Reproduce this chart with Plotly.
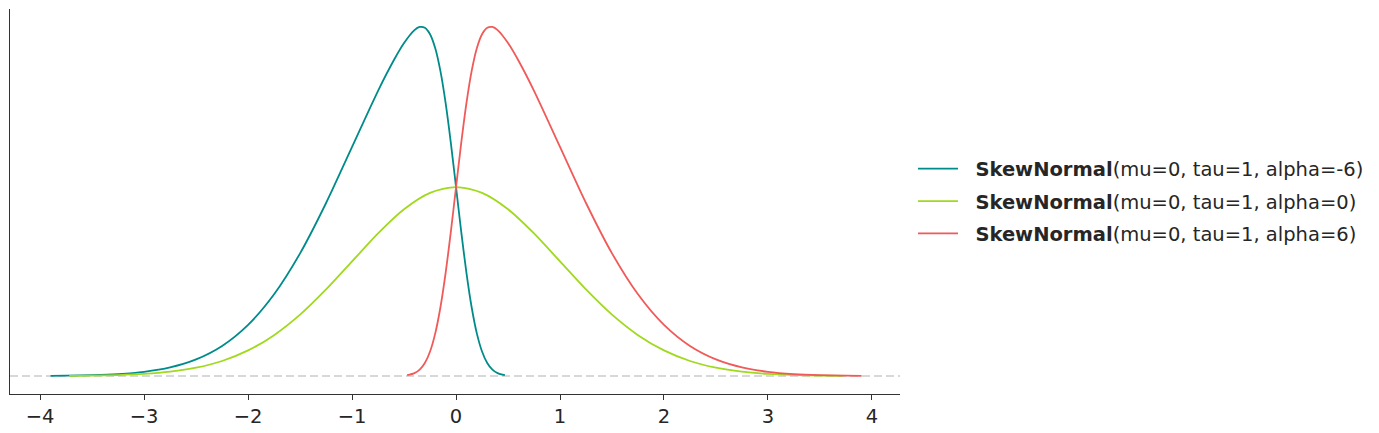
import plotly.graph_objects as go

# ---- data ----
x_alpha0 = [-3.72, -3.5, -3.25, -3.0, -2.75, -2.5, -2.25, -2.0, -1.75, -1.5, -1.25, -1.0, -0.75,
            -0.5, -0.25, 0.0, 0.25, 0.5, 0.75, 1.0, 1.25, 1.5, 1.75, 2.0, 2.25, 2.5, 2.75,
            3.0, 3.25, 3.5, 3.72]
y_alpha0 = [0.0004, 0.0009, 0.0020, 0.0044, 0.0091, 0.0175, 0.0317, 0.0540, 0.0863, 0.1295,
            0.1827, 0.2420, 0.3011, 0.3521, 0.3867, 0.3989, 0.3867, 0.3521, 0.3011, 0.2420,
            0.1827, 0.1295, 0.0863, 0.0540, 0.0317, 0.0175, 0.0091, 0.0044, 0.0020, 0.0009,
            0.0004]

x_alpha6 = [-0.47, -0.4, -0.35, -0.3, -0.25, -0.2, -0.15, -0.1, -0.05, 0.0, 0.05, 0.1, 0.15,
            0.2, 0.25, 0.3, 0.35, 0.4, 0.5, 0.6, 0.75, 1.0, 1.25, 1.5, 1.75, 2.0, 2.25, 2.5,
            2.75, 3.0, 3.25, 3.5, 3.75, 3.9]
y_alpha6 = [0.0017, 0.0060, 0.0134, 0.0274, 0.0517, 0.0900, 0.1452, 0.2177, 0.3045, 0.3989,
            0.4924, 0.5762, 0.6437, 0.6921, 0.7217, 0.7354, 0.7371, 0.7305, 0.7032, 0.6663,
            0.6023, 0.4839, 0.3653, 0.2590, 0.1726, 0.1080, 0.0635, 0.0351, 0.0182, 0.0089,
            0.0041, 0.0018, 0.0007, 0.0004]

x_alpham6 = [-3.9, -3.75, -3.5, -3.25, -3.0, -2.75, -2.5, -2.25, -2.0, -1.75, -1.5, -1.25,
             -1.0, -0.75, -0.6, -0.5, -0.4, -0.35, -0.3, -0.25, -0.2, -0.15, -0.1, -0.05,
             0.0, 0.05, 0.1, 0.15, 0.2, 0.25, 0.3, 0.35, 0.4, 0.47]
y_alpham6 = [0.0004, 0.0007, 0.0018, 0.0041, 0.0089, 0.0182, 0.0351, 0.0635, 0.1080, 0.1726,
             0.2590, 0.3653, 0.4839, 0.6023, 0.6663, 0.7032, 0.7305, 0.7371, 0.7354, 0.7217,
             0.6921, 0.6437, 0.5762, 0.4924, 0.3989, 0.3045, 0.2177, 0.1452, 0.0900, 0.0517,
             0.0274, 0.0134, 0.0060, 0.0017]

names = ["<b>SkewNormal</b>(mu=0, tau=1, alpha=-6)",
         "<b>SkewNormal</b>(mu=0, tau=1, alpha=0)",
         "<b>SkewNormal</b>(mu=0, tau=1, alpha=6)"]
colors = ["#008b8b", "#a0d91e", "#f05a58"]
tick_vals = [-4, -3, -2, -1, 0, 1, 2, 3, 4]

x_range = [-4.29, 4.27]
y_range = [-0.038, 0.775]

fig = go.Figure()
# dashed zero line
fig.add_trace(go.Scatter(x=x_range, y=[0, 0], mode="lines",
                         line=dict(color="#cccccc", width=1.6, dash="8px,4px"),
                         showlegend=False, hoverinfo="skip"))
for i, (xs, ys, nm, c) in enumerate([(x_alpham6, y_alpham6, names[0], colors[0]),
                                     (x_alpha0, y_alpha0, names[1], colors[1]),
                                     (x_alpha6, y_alpha6, names[2], colors[2])]):
    fig.add_trace(go.Scatter(x=xs, y=ys, mode="lines", name="&nbsp;&nbsp;" + nm,
                             legendgroup="g%d" % i,
                             line=dict(color=c, width=1.8, shape="spline", smoothing=0.8)))

fig.update_layout(
    width=1379, height=433,
    margin=dict(l=10, r=479, t=9, b=39, autoexpand=False),
    paper_bgcolor="white", plot_bgcolor="white",
    font=dict(family="DejaVu Sans", color="#262626"),
    showlegend=True,
    legend=dict(x=1.0146, y=0.5, xanchor="left", yanchor="middle",
                font=dict(size=19.5, family="DejaVu Sans", color="#262626"),
                itemwidth=40, tracegroupgap=4,
                bgcolor="rgba(0,0,0,0)"),
)
fig.update_xaxes(range=x_range, tickvals=tick_vals, ticks="outside", ticklen=5,
                 tickcolor="#333333", showline=True, linecolor="#333333", linewidth=1,
                 showgrid=False, zeroline=False, automargin=False,
                 tickfont=dict(size=19.5, color="#262626"))
fig.update_yaxes(range=y_range, showticklabels=False, ticks="", showline=True,
                 linecolor="#333333", linewidth=1, showgrid=False, zeroline=False,
                 automargin=False)

fig.write_html("out.html")
